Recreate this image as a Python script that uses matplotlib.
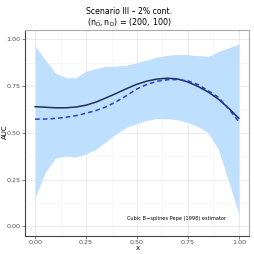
import matplotlib
matplotlib.use("Agg")
import matplotlib.pyplot as plt
import numpy as np

x = [0.0, 0.05, 0.1, 0.15, 0.2, 0.25, 0.3, 0.35, 0.4, 0.45, 0.5,
     0.55, 0.6, 0.65, 0.7, 0.75, 0.8, 0.85, 0.9, 0.95, 1.0]
upper = [0.965, 0.89, 0.82, 0.795, 0.795, 0.83, 0.845, 0.855, 0.857, 0.862, 0.875,
         0.89, 0.905, 0.915, 0.92, 0.918, 0.913, 0.91, 0.935, 0.955, 0.975]
lower = [0.155, 0.29, 0.365, 0.377, 0.37, 0.387, 0.413, 0.455, 0.497, 0.53, 0.55,
         0.567, 0.577, 0.575, 0.57, 0.555, 0.533, 0.50, 0.41, 0.24, 0.07]
true_auc = [0.640, 0.637, 0.634, 0.634, 0.638, 0.648, 0.665, 0.688, 0.712, 0.737, 0.760,
            0.777, 0.788, 0.792, 0.788, 0.772, 0.748, 0.718, 0.680, 0.632, 0.578]
est_auc = [0.573, 0.574, 0.577, 0.583, 0.592, 0.605, 0.620, 0.640, 0.668, 0.700, 0.735,
           0.760, 0.776, 0.784, 0.785, 0.778, 0.758, 0.725, 0.690, 0.628, 0.560]
xticks = [0.0, 0.25, 0.5, 0.75, 1.0]
xticklabels = ["0.00", "0.25", "0.50", "0.75", "1.00"]
yticks = [0.0, 0.25, 0.5, 0.75, 1.0]
yticklabels = ["0.00", "0.25", "0.50", "0.75", "1.00"]

fig = plt.figure(figsize=(2.54, 2.54), dpi=100)
ax = fig.add_axes([25/254, 1-235.7/254, 224/254, 205.7/254])

ax.fill_between(x, lower, upper, color="#bfdfff", linewidth=0, zorder=2)
ax.plot(x, true_auc, color="#1f2f55", lw=1.1, zorder=3)
ax.plot(x, est_auc, color="#2b3ccc", lw=1.1, ls=(0, (3, 2)), zorder=4)

ax.set_xlim(-0.05, 1.05)
ax.set_ylim(-0.05, 1.05)
ax.set_xticks(xticks)
ax.set_xticklabels(xticklabels)
ax.set_yticks(yticks)
ax.set_yticklabels(yticklabels)
ax.set_xticks([0.125, 0.375, 0.625, 0.875], minor=True)
ax.set_yticks([0.125, 0.375, 0.625, 0.875], minor=True)
ax.grid(True, which="major", color="#e8e8e8", lw=0.6, zorder=0)
ax.grid(True, which="minor", color="#f2f2f2", lw=0.4, zorder=0)
ax.set_axisbelow(True)
ax.tick_params(which="major", length=2, width=0.5, color="#555555", labelsize=4.6,
               labelcolor="#4d4d4d", pad=1.0)
ax.tick_params(which="minor", length=0)
for s in ["left", "bottom"]:
    ax.spines[s].set_color("#444444")
    ax.spines[s].set_linewidth(0.8)
for s in ["top", "right"]:
    ax.spines[s].set_color("#aaaaaa")
    ax.spines[s].set_linewidth(0.8)

ax.text(0.936, 0.04, "Cubic B\u2212splines Pepe (1998) estimator", fontsize=3.6,
        ha="right", va="center", transform=ax.transData)

fig.text(4.5/254, 1-131.5/254, "AUC", rotation=90, ha="center", va="center", fontsize=5)
fig.text(137.5/254, 1-247.8/254, "x", ha="center", va="center", fontsize=5)
fig.text(0.51, 1-12/254, "Scenario III \u2013 2% cont.", ha="center", va="center", fontsize=5.6)
fig.text(0.51, 1-22.5/254, r"$(\mathregular{n}_{\bar{\mathregular{D}}}, \mathregular{n}_\mathregular{D})$ = (200, 100)",
         ha="center", va="center", fontsize=5.8)

fig.savefig("out.png", dpi=100)
